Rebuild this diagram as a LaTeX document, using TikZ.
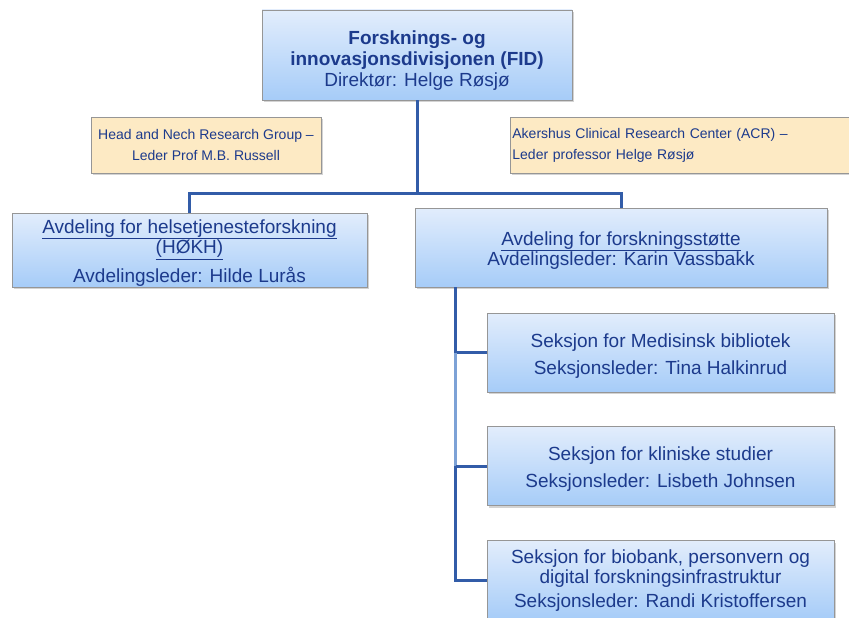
\documentclass[tikz,border=0pt]{standalone}
\usepackage{fontspec}
\setmainfont{Liberation Sans}
\usetikzlibrary{positioning,shadows,calc}
\definecolor{fidblue}{RGB}{28,58,140}
\definecolor{linkblue}{RGB}{50,92,168}
\definecolor{linklight}{RGB}{125,162,214}
\definecolor{boxtop}{RGB}{226,237,252}
\definecolor{boxbottom}{RGB}{166,204,248}
\definecolor{unitfill}{RGB}{253,234,196}
\definecolor{edgegray}{RGB}{150,150,150}
\newcommand{\lift}[1][20pt]{\rule{0pt}{#1}}

\begin{document}
\begin{tikzpicture}[
    x=1pt, y=-1pt,
    node distance=34pt,
    orgbox/.style={rectangle, draw=edgegray, line width=0.8pt, top color=boxtop, bottom color=boxbottom, text=fidblue, align=center, font=\fontsize{19}{20.5}\selectfont, drop shadow={opacity=0.35, shadow xshift=1.5pt, shadow yshift=-2pt}},
    dept/.style={orgbox, minimum height=76pt},
    seksjon/.style={orgbox, minimum width=347pt, minimum height=79pt},
    unit/.style={rectangle, draw=edgegray, line width=0.8pt, fill=unitfill, text=fidblue, minimum height=56pt, font=\fontsize{14}{21}\selectfont, drop shadow={opacity=0.35, shadow xshift=1.5pt, shadow yshift=-2pt}},
    link/.style={draw=linkblue, line width=3pt}
  ]
    \useasboundingbox (0,0) rectangle (849,618);
    \clip (0,0) rectangle (849,618);

    \node[orgbox, minimum width=310pt, minimum height=90pt, font=\fontsize{19}{21}\selectfont] (fid) at (417,55) {\lift[24pt]\textbf{Forsknings- og}\\\textbf{innovasjonsdivisjonen (FID)}\\Direktør: Helge Røsjø};
    \node[unit, minimum width=230pt, align=center] (hnrg) at (206,145) {Head and Nech Research Group --\\Leder Prof M.B. Russell};
    \node[unit, anchor=west, text width=340pt, inner xsep=2pt, align=left] (acr) at (510,145) {Akershus Clinical Research Center (ACR) --\\Leder professor Helge Røsjø};

    \node[dept, minimum width=355pt, minimum height=74pt, inner ysep=0pt] (hokh) at (189.5,250) {\lift\underline{Avdeling for helsetjenesteforskning}\\\underline{(HØKH)}\\[7pt]Avdelingsleder: Hilde Lurås};
    \node[dept, minimum width=412pt, minimum height=79pt] (stotte) at (621,247.5) {\lift\underline{Avdeling for forskningsstøtte}\\Avdelingsleder: Karin Vassbakk};

    \node[seksjon] (bibl) at (660.5,352.5) {\lift Seksjon for Medisinsk bibliotek\\[6.5pt]Seksjonsleder: Tina Halkinrud};
    \node[seksjon, below=of bibl] (klin) {\lift Seksjon for kliniske studier\\[6.5pt]Seksjonsleder: Lisbeth Johnsen};
    \node[seksjon, below=of klin] (biobank) {Seksjon for biobank, personvern og\\digital forskningsinfrastruktur\\[3pt]Seksjonsleder: Randi Kristoffersen};

    \coordinate (bus) at (417,193);
    \coordinate (spine) at ($(stotte.south west)+(41,0)$);

    \draw[link] (fid.south) -- (bus);
    \draw[link] (hokh.north) |- (bus) -| (stotte.north);
    \draw[link] (spine) |- (bibl.west);
    \draw[link, draw=linklight] (spine |- bibl.west) -- (spine |- klin.west);
    \draw[link] (spine |- klin.west) -- (klin.west);
    \draw[link] (spine |- klin.west) |- (biobank.west);
  \end{tikzpicture}
\end{document}
